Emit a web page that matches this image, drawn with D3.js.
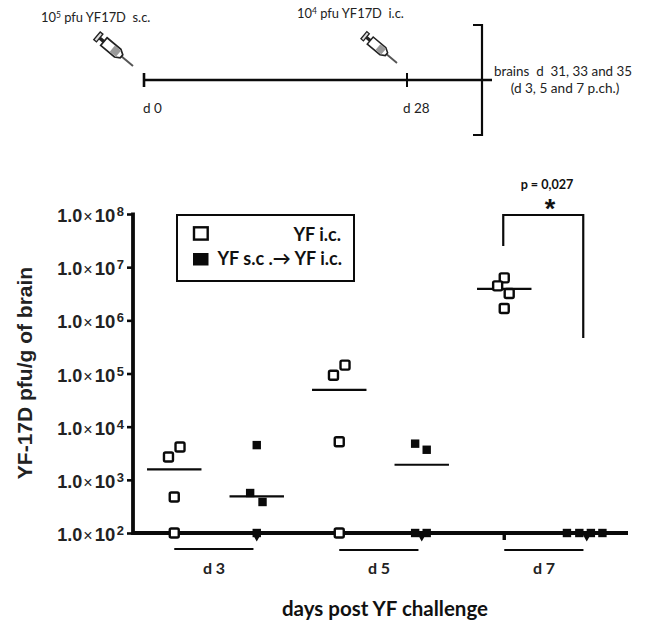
<!DOCTYPE html>
<html>
  <head>
    <title>YF-17D brain titers</title>
    <script src="https://d3js.org/d3.v7.min.js"></script>
    <style>
      html, body { margin: 0; padding: 0; background: #fff; }
      svg { display: block; }
    </style>
  </head>
  <body>
    <svg width="645" height="628" id="mainsvg"></svg>
    <script>
        // data
        const dayLabels = ['d 3', 'd 5', 'd 7'];
        const yTicks = [1e2, 1e3, 1e4, 1e5, 1e6, 1e7, 1e8];
        const timelineDays = [0, 28];

        // one list per group, groups go open, filled, open, filled...
        const groupValues = [
            [4150, 2680, 475, 100],
            [4500, 565, 383, 100],
            [93000, 144000, 5200, 100],
            [4790, 3680, 100, 100],
            [6.3e6, 4.45e6, 3.2e6, 1.67e6],
            [100, 100, 100, 100]
        ];
        // sideways jitter, in group units
        const groupJitter = [
            [0.07, -0.07, 0, 0],
            [0, -0.08, 0.07, 0],
            [-0.07, 0.07, 0, 0],
            [-0.08, 0.06, -0.08, 0.06],
            [0, -0.08, 0.06, 0],
            [-0.24, -0.09, 0.05, 0.19]
        ];
        const groupMeans = [1575, 490, 49000, 1920, 3.9e6, 100];
        const meanGroups = [0, 1, 2, 3, 4];
        const belowLimitGroups = [1, 3, 5];

        const svg = d3.select('#mainsvg');
        const arial = '"Liberation Sans", Arial, sans-serif';
        const lato = 'Lato, "Open Sans", sans-serif';
        const ink = '#0a0a0a';

        const x = d3.scaleLinear().domain([-0.5, 5.5]).range([133, 628]);
        const y = d3.scaleLog().domain([100, 1e8]).range([533, 214]);

        // ---- timeline on top ----
        const dayX = d3.scaleLinear().domain([0, 28]).range([144, 407]);
        const timeline = svg.append('g');

        timeline.append('line').attr('x1', dayX(0)).attr('x2', 492).attr('y1', 80).attr('y2', 80)
            .attr('stroke', ink).attr('stroke-width', 2.4);
        timeline.selectAll('.dayTick').data(timelineDays).join('line')
            .attr('class', 'dayTick')
            .attr('x1', d => dayX(d)).attr('x2', d => dayX(d))
            .attr('y1', 73).attr('y2', 87)
            .attr('stroke', ink).attr('stroke-width', d => d === 0 ? 2.6 : 2);
        timeline.selectAll('.dayLabel').data(timelineDays).join('text')
            .attr('class', 'dayLabel')
            .attr('x', d => dayX(d) + (d === 0 ? -1 : -4))
            .attr('y', 113)
            .attr('font-family', lato).attr('font-size', 13.5).attr('fill', '#222')
            .text(d => 'd ' + d);

        timeline.append('path')
            .attr('d', 'M473,25 H482 V135 H473')
            .attr('fill', 'none').attr('stroke', ink).attr('stroke-width', 2.2);

        const doseText = function(px, py, exp, rest){
            const t = timeline.append('text').attr('x', px).attr('y', py)
                .attr('font-family', lato).attr('font-size', 12.9).attr('fill', '#222')
                .attr('xml:space', 'preserve');
            t.append('tspan').text('10');
            t.append('tspan').attr('font-size', 8.5).attr('dy', -4).text(exp);
            t.append('tspan').attr('dy', 4).text(rest);
        };
        doseText(41, 22, '5', ' pfu YF17D  s.c.');
        doseText(297, 18, '4', ' pfu YF17D  i.c.');

        timeline.append('text').attr('x', 563).attr('y', 76).attr('text-anchor', 'middle')
            .attr('font-family', lato).attr('font-size', 13.4).attr('fill', '#222')
            .attr('xml:space', 'preserve').text('brains  d  31, 33 and 35');
        timeline.append('text').attr('x', 565).attr('y', 93).attr('text-anchor', 'middle')
            .attr('font-family', lato).attr('font-size', 13.6).attr('fill', '#222')
            .text('(d 3, 5 and 7 p.ch.)');

        // syringe, drawn pointing along +x with its tip at the origin
        const syringe = function(px, py, scale){
            const s = timeline.append('g')
                .attr('transform', `translate(${px},${py}) rotate(40) scale(${scale})`);
            s.append('line').attr('x1', 0).attr('x2', -16).attr('y1', 0).attr('y2', 0)
                .attr('stroke', '#555').attr('stroke-width', 2);
            s.append('path').attr('d', 'M-38,-5 H-20 L-15,-2 V2 L-20,5 H-38 Z')
                .attr('fill', '#fff').attr('stroke', '#222').attr('stroke-width', 1.7);
            s.append('rect').attr('x', -27).attr('y', -4).attr('width', 8).attr('height', 8)
                .attr('fill', '#9a9a9a');
            s.append('line').attr('x1', -38).attr('x2', -44).attr('y1', 0).attr('y2', 0)
                .attr('stroke', '#222').attr('stroke-width', 3.4);
            s.append('rect').attr('x', -47).attr('y', -5).attr('width', 3.5).attr('height', 10)
                .attr('fill', '#ddd').attr('stroke', '#222').attr('stroke-width', 1.4);
        };
        syringe(133, 66, 1);
        syringe(397, 63, 0.92);

        // ---- main chart ----
        const chart = svg.append('g');

        const yAxis = d3.axisLeft(y).tickValues(yTicks).tickSize(6).tickPadding(3).tickFormat(d => d);
        const yAxisGroup = chart.append('g').attr('transform', `translate(${x(-0.5)},0)`).call(yAxis);
        yAxisGroup.selectAll('.domain').remove();
        yAxisGroup.selectAll('.tick line').attr('stroke', ink).attr('stroke-width', 2.6);
        yAxisGroup.selectAll('.tick text').each(function(d){
            const t = d3.select(this).text(null)
                .attr('x', -9).attr('dy', '0.42em')
                .attr('font-family', arial).attr('font-weight', 'bold').attr('fill', '#222')
                .attr('font-size', 18);
            t.append('tspan').text('1.0');
            t.append('tspan').attr('font-size', 16).attr('font-weight', 'normal').attr('dx', 1).text('\u00d7');
            t.append('tspan').attr('dx', 2).attr('font-size', 18.5).text('10');
            t.append('tspan').attr('font-size', 13).attr('dx', 1.5).attr('dy', -6).text(Math.round(Math.log10(d)));
        });

        chart.append('line').attr('x1', x(-0.5)).attr('x2', x(-0.5)).attr('y1', y(1e8) - 1.5).attr('y2', y(100) + 2)
            .attr('stroke', ink).attr('stroke-width', 3.8);
        chart.append('line').attr('x1', x(-0.5)).attr('x2', x(5.5)).attr('y1', y(100)).attr('y2', y(100))
            .attr('stroke', ink).attr('stroke-width', 3.8);

        // mean lines
        chart.selectAll('.mean').data(meanGroups).join('line')
            .attr('class', 'mean')
            .attr('x1', g => x(g - 0.33)).attr('x2', g => x(g + 0.33))
            .attr('y1', g => y(groupMeans[g])).attr('y2', g => y(groupMeans[g]))
            .attr('stroke', ink).attr('stroke-width', 2.2);

        // points below the detection limit hang under the axis
        const belowMark = d3.symbol().type(d3.symbolTriangle).size(38);
        chart.selectAll('.below').data(belowLimitGroups).join('path')
            .attr('class', 'below')
            .attr('d', belowMark)
            .attr('transform', g => `translate(${x(g)},${y(100) + 3}) rotate(180)`)
            .attr('fill', ink);
        chart.append('rect')
            .attr('x', x(4) - 1.7).attr('y', y(100)).attr('width', 3.4).attr('height', 7)
            .attr('fill', ink);

        // open = YF i.c., filled = YF s.c. -> YF i.c.
        groupValues.forEach((vals, g) => {
            const open = g % 2 === 0;
            const side = open ? 9 : 8.4;
            chart.selectAll('.pt' + g).data(vals).join('rect')
                .attr('class', 'pt' + g)
                .attr('x', (d, i) => x(g + groupJitter[g][i]) - side / 2)
                .attr('y', d => y(d) - side / 2)
                .attr('width', side).attr('height', side)
                .attr('rx', open ? 1.5 : 0)
                .attr('fill', open ? '#fff' : ink)
                .attr('stroke', open ? ink : 'none')
                .attr('stroke-width', open ? 2.4 : 0);
        });

        // group underlines and labels
        const underline = [0, 2, 4];
        chart.selectAll('.under').data(underline).join('line')
            .attr('class', 'under')
            .attr('x1', g => x(g)).attr('x2', g => x(g + 0.96))
            .attr('y1', g => g === 0 ? 549 : 550).attr('y2', g => g === 0 ? 549 : 550)
            .attr('stroke', ink).attr('stroke-width', 2.2);
        chart.selectAll('.dayGroup').data(dayLabels).join('text')
            .attr('class', 'dayGroup')
            .attr('x', (d, i) => x(i * 2 + 0.5) - 1.5)
            .attr('y', 574)
            .attr('text-anchor', 'middle')
            .attr('font-family', lato).attr('font-weight', 'bold').attr('font-size', 16).attr('fill', '#222')
            .text(d => d);

        // axis titles
        chart.append('text')
            .attr('transform', 'translate(32,373) rotate(-90)')
            .attr('text-anchor', 'middle')
            .attr('font-family', arial).attr('font-weight', 'bold').attr('font-size', 21).attr('fill', '#222')
            .text('YF-17D pfu/g of brain');
        chart.append('text')
            .attr('x', 385).attr('y', 616).attr('text-anchor', 'middle')
            .attr('font-family', lato).attr('font-weight', 'bold').attr('font-size', 20.5).attr('fill', '#111')
            .text('days post YF challenge');

        // legend
        const legend = chart.append('g');
        legend.append('rect').attr('x', 177).attr('y', 215).attr('width', 177).attr('height', 66)
            .attr('fill', '#fff').attr('stroke', ink).attr('stroke-width', 2);
        legend.append('rect').attr('x', 194).attr('y', 227.3).attr('width', 13.7).attr('height', 12.3)
            .attr('fill', '#fff').attr('stroke', ink).attr('stroke-width', 2.4);
        legend.append('rect').attr('x', 193).attr('y', 253).attr('width', 15.5).attr('height', 12.5)
            .attr('fill', ink);
        legend.append('text').attr('x', 341).attr('y', 241).attr('text-anchor', 'end')
            .attr('font-family', lato).attr('font-weight', 'bold').attr('font-size', 18).attr('fill', '#111')
            .text('YF i.c.');
        legend.append('text').attr('x', 342).attr('y', 265).attr('text-anchor', 'end')
            .attr('font-family', lato).attr('font-weight', 'bold').attr('font-size', 18).attr('fill', '#111')
            .text('YF s.c .\u2192 YF i.c.');

        // significance bracket
        const bracket = chart.append('g');
        const yTop = 215;
        bracket.append('path')
            .attr('d', `M${x(4) - 1},246 V${yTop} H${x(5) - 3.5} V338`)
            .attr('fill', 'none').attr('stroke', ink).attr('stroke-width', 2.2);
        bracket.append('text').attr('x', 547).attr('y', 189).attr('text-anchor', 'middle')
            .attr('font-family', lato).attr('font-weight', 'bold').attr('font-size', 12.6).attr('fill', '#111')
            .text('p = 0,027');
        bracket.append('text').attr('x', 550).attr('y', 218).attr('text-anchor', 'middle')
            .attr('font-family', arial).attr('font-weight', 'bold').attr('font-size', 27).attr('fill', '#111')
            .text('*');
    </script>
  </body>
</html>
